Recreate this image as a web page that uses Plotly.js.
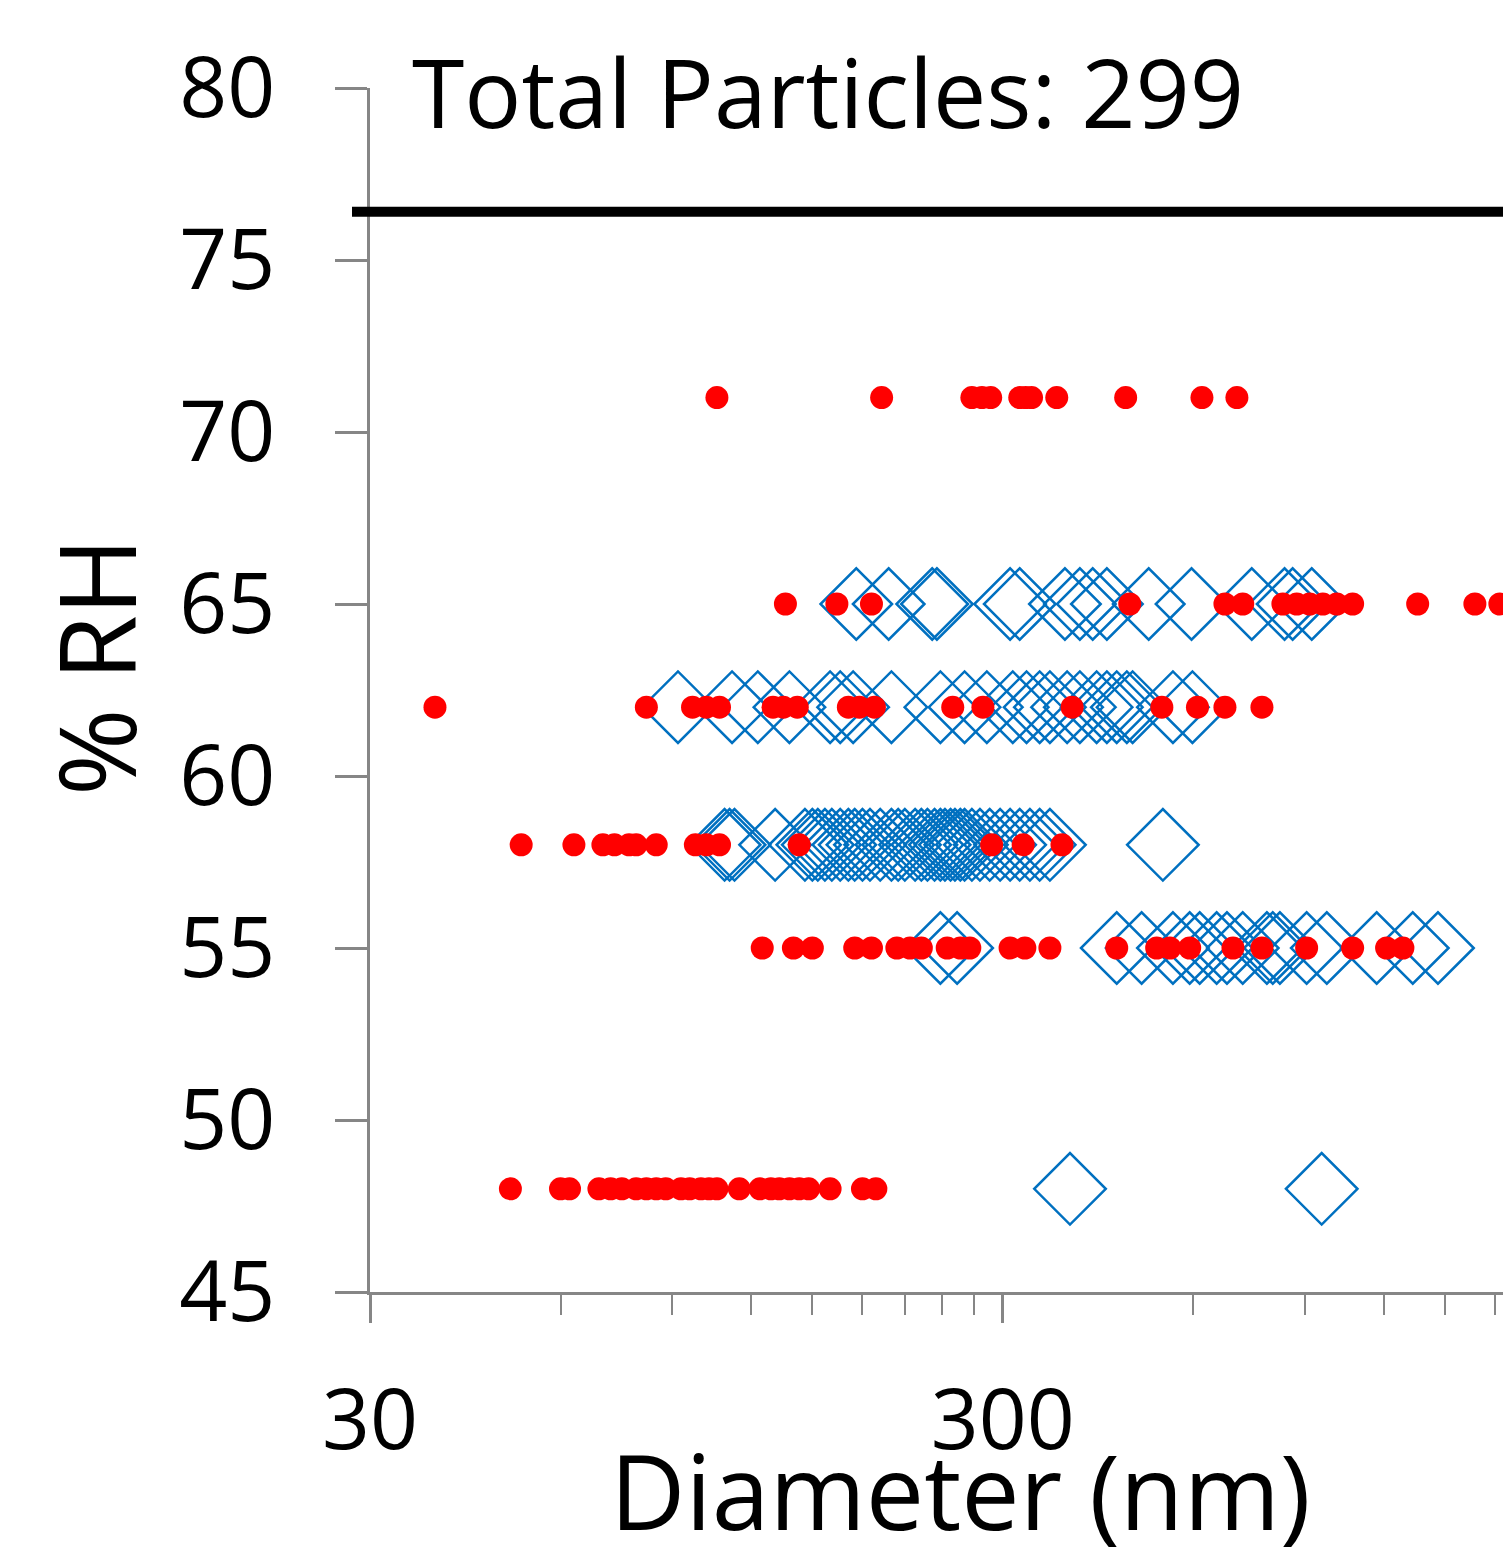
<!DOCTYPE html>
<html>
<head>
<meta charset="utf-8">
<script src="https://cdn.plot.ly/plotly-3.0.1.min.js"></script>
<style>html,body{margin:0;padding:0;background:#fff;}</style>
</head>
<body>
<div id="chart" style="width:1503px;height:1550px;"></div>
<script>
// ---- data (diameter in nm, per %RH level) ----
const rhLevels = [71, 65, 62, 58, 55, 48];

const red71 = [106, 193, 268, 278, 287, 319, 326, 333, 365, 469, 619, 703];
const red65 = [136, 164, 186, 476, 673, 718, 831, 874, 916, 961, 1011, 1071, 1357, 1671, 1830];
const red62 = [38, 82, 97, 102, 107, 130, 135, 142, 171, 178, 188, 250, 279, 386, 535, 609, 673, 770];
const red58 = [52, 63, 70, 73, 77, 79, 85, 98, 102, 107, 143, 288, 323, 372];
const red55 = [125, 140, 150, 175, 186, 204, 214, 223, 245, 257, 266, 308, 325, 356, 454, 525, 551, 592, 693, 770, 906, 1071, 1212, 1286];
const red48 = [50, 60, 62, 69, 72, 75, 79, 82, 85, 88, 93, 96, 100, 103, 106, 115, 124, 129, 133, 138, 143, 148, 160, 180, 189];

const blue71 = [];
const blue65 = [176, 198, 232, 236, 308, 319, 376, 397, 416, 438, 510, 596, 742, 836, 861, 923];
const blue62 = [92, 112, 123, 138, 160, 166, 174, 200, 239, 261, 283, 311, 327, 343, 356, 379, 397, 422, 438, 454, 471, 481, 557, 598];
const blue58 = [109, 111, 113, 131, 146, 150, 153, 157, 161, 166, 171, 175, 180, 185, 192, 200, 205, 210, 218, 223, 228, 234, 239, 243, 248, 252, 257, 261, 268, 276, 286, 297, 308, 319, 331, 343, 356, 537];
const blue55 = [239, 254, 454, 497, 557, 592, 614, 653, 678, 718, 784, 801, 822, 906, 975, 1169, 1333, 1461];
const blue48 = [383, 957];

const yTickVals = [45, 50, 55, 60, 65, 70, 75, 80];
const xTickVals = [30, 300];
const xTickText = ['30', '300'];
const xMinorTicks = [60, 90, 120, 150, 180, 210, 240, 270, 600, 900, 1200, 1500, 1800];
const thresholdRH = 76.4;
const titleText = 'Total Particles: 299';
const xTitleText = 'Diameter (nm)';
const yTitleText = '% RH';

// ---- build traces ----
const redRows = [red71, red65, red62, red58, red55, red48];
const blueRows = [blue71, blue65, blue62, blue58, blue55, blue48];
function flatten(rows) {
  const x = [], y = [];
  rows.forEach((row, i) => row.forEach(d => { x.push(d); y.push(rhLevels[i]); }));
  return {x, y};
}
const redXY = flatten(redRows);
const blueXY = flatten(blueRows);

const FONT = '"Open Sans", "DejaVu Sans", sans-serif';
const AX = '#868686';

const traces = [
  {
    type: 'scatter', mode: 'markers', name: 'blue',
    x: blueXY.x, y: blueXY.y,
    marker: {symbol: 'diamond-open', size: 55, color: '#0070C0', line: {width: 2.5, color: '#0070C0'}},
    showlegend: false, hoverinfo: 'x+y'
  },
  {
    type: 'scatter', mode: 'markers', name: 'red',
    x: redXY.x, y: redXY.y,
    marker: {symbol: 'circle', size: 23, color: '#FF0000', line: {width: 0}},
    showlegend: false, hoverinfo: 'x+y'
  }
];

const layout = {
  width: 1503, height: 1550,
  margin: {l: 370, r: 0, t: 88, b: 258, pad: 0},
  paper_bgcolor: '#ffffff', plot_bgcolor: '#ffffff',
  font: {family: FONT, color: '#000000'},
  showlegend: false,
  title: {
    text: titleText, font: {family: FONT, size: 95, color: '#000'},
    x: 412 / 1503, xanchor: 'left', xref: 'container',
    y: 1 - 95 / 1550, yanchor: 'middle', yref: 'container'
  },
  xaxis: {
    type: 'log',
    range: [Math.log10(30), Math.log10(1851)],
    tickmode: 'array', tickvals: xTickVals, ticktext: xTickText,
    ticks: 'outside', ticklen: 28, tickwidth: 3, tickcolor: AX,
    showline: true, linecolor: AX, linewidth: 3,
    showgrid: false, zeroline: false,
    tickfont: {family: FONT, size: 84, color: '#000'},
    ticklabelstandoff: 25,
    minor: {tickmode: 'array', tickvals: xMinorTicks, ticks: 'outside', ticklen: 20, tickwidth: 2, tickcolor: AX, showgrid: false}
  },
  yaxis: {
    range: [45, 80],
    tickmode: 'array', tickvals: yTickVals,
    ticks: 'outside', ticklen: 32, tickwidth: 3, tickcolor: AX,
    showline: true, linecolor: AX, linewidth: 3,
    showgrid: false, zeroline: false,
    tickfont: {family: FONT, size: 84, color: '#000'},
    ticklabelstandoff: 43
  },
  annotations: [
    {
      text: xTitleText, showarrow: false,
      xref: 'paper', yref: 'paper',
      x: (960 - 370) / 1133, y: (1292 - 1489) / 1204,
      xanchor: 'center', yanchor: 'middle',
      font: {family: FONT, size: 104, color: '#000'}
    },
    {
      text: yTitleText, showarrow: false, textangle: -90,
      xref: 'paper', yref: 'paper',
      x: (95 - 370) / 1133, y: (1292 - 667) / 1204,
      xanchor: 'center', yanchor: 'middle',
      font: {family: FONT, size: 106, color: '#000'}
    }
  ],
  shapes: [{
    type: 'line', xref: 'paper', yref: 'y',
    x0: -18 / 1133, x1: 1, y0: thresholdRH, y1: thresholdRH,
    line: {color: '#000000', width: 10}
  }]
};

Plotly.newPlot('chart', traces, layout, {displayModeBar: false, staticPlot: true});
</script>
</body>
</html>
